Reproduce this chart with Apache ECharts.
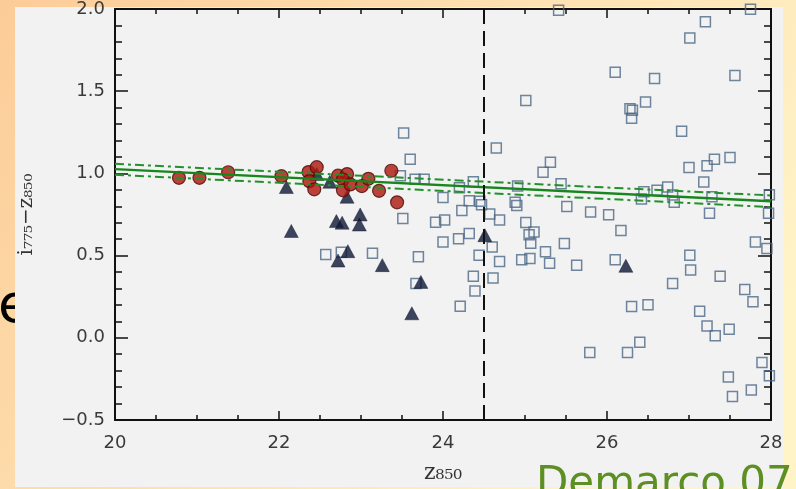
<!DOCTYPE html>
<html>
<head>
<meta charset="utf-8">
<script src="https://cdn.jsdelivr.net/npm/echarts@6/dist/echarts.min.js"></script>
<style>
  html, body { margin: 0; padding: 0; }
  #chart { width: 796px; height: 489px; }
</style>
</head>
<body>
<div id="chart"></div>
<script>
// red circles (z850, i775-z850)
var redX = [20.78, 21.03, 21.38, 22.03, 22.36, 22.46, 22.37, 22.43, 22.72, 22.83, 22.78, 22.78, 22.87, 23.01, 23.09, 23.22, 23.37, 23.44];
var redY = [0.973, 0.973, 1.007, 0.983, 1.008, 1.038, 0.953, 0.903, 0.986, 0.996, 0.963, 0.897, 0.933, 0.923, 0.967, 0.894, 1.016, 0.824];

// dark triangles
var triX = [22.46, 22.09, 22.62, 22.83, 22.70, 22.77, 22.99, 22.98, 22.15, 22.84, 22.72, 23.26, 23.73, 23.62, 24.51, 26.23];
var triY = [0.996, 0.917, 0.949, 0.858, 0.710, 0.700, 0.750, 0.689, 0.650, 0.527, 0.470, 0.442, 0.340, 0.149, 0.624, 0.438];

// open squares
var sqX = [23.52, 23.60, 23.48, 23.66, 23.77, 24.00, 24.20, 24.37, 24.65, 24.23, 24.32, 24.45, 24.47, 24.57, 24.69,
           24.02, 23.91, 23.51, 24.32, 24.19, 24.00, 24.60, 24.44, 24.69, 23.70, 24.37, 24.61, 24.39, 24.21, 23.67,
           22.57, 22.76, 23.14, 25.31, 25.22, 24.91, 25.44, 24.88, 24.90, 25.01, 25.11, 25.05, 25.07, 24.96, 25.06,
           25.25, 25.30, 25.41, 27.20, 27.01, 27.75, 26.10, 26.58, 27.56, 25.01, 26.28, 26.31, 26.30, 26.47, 26.91,
           27.00, 27.22, 27.31, 27.50, 27.18, 26.45, 26.61, 26.74, 26.80, 26.42, 26.82, 27.28, 27.98, 25.51, 25.80,
           26.02, 27.25, 27.97, 26.17, 25.48, 25.63, 26.10, 27.01, 27.02, 26.80, 27.38, 27.81, 27.95, 27.68, 27.78,
           26.30, 26.50, 27.13, 27.22, 27.32, 27.49, 25.79, 26.25, 26.40, 27.89, 27.98, 27.48, 27.53, 27.76];
var sqY = [1.246, 1.086, 0.986, 0.964, 0.964, 0.854, 0.913, 0.949, 1.155, 0.775, 0.834, 0.830, 0.809, 0.753, 0.716,
           0.716, 0.703, 0.725, 0.634, 0.603, 0.583, 0.553, 0.502, 0.464, 0.493, 0.374, 0.364, 0.285, 0.192, 0.330,
           0.507, 0.521, 0.514, 1.068, 1.007, 0.923, 0.937, 0.824, 0.805, 0.701, 0.644, 0.627, 0.575, 0.474, 0.482,
           0.523, 0.453, 1.992, 1.923, 1.824, 1.998, 1.616, 1.577, 1.596, 1.444, 1.394, 1.384, 1.335, 1.434, 1.256,
           1.036, 1.046, 1.086, 1.096, 0.947, 0.888, 0.897, 0.917, 0.868, 0.844, 0.824, 0.858, 0.870, 0.799, 0.765,
           0.748, 0.757, 0.757, 0.652, 0.573, 0.442, 0.474, 0.502, 0.413, 0.330, 0.375, 0.583, 0.543, 0.294, 0.220,
           0.191, 0.201, 0.161, 0.072, 0.012, 0.052, -0.090, -0.090, -0.027, -0.150, -0.231, -0.239, -0.357, -0.318];

// red sequence fit and its scatter band
var fitX = [20, 28];
var fitY = [1.026, 0.830];
var fitUpY = [1.058, 0.866];
var fitLoY = [0.992, 0.795];

// magnitude limit
var limX = [24.5, 24.5];
var limY = [-0.5, 2.0];

var xTickVals = [20, 22, 24, 26, 28];
var xTickText = ['20', '22', '24', '26', '28'];
var yTickVals = [-0.5, 0.0, 0.5, 1.0, 1.5, 2.0];
var yTickText = ['\u22120.5', '0.0', '0.5', '1.0', '1.5', '2.0'];

function pairs(xs, ys) {
    var out = [];
    for (var i = 0; i < xs.length; i++) out.push([xs[i], ys[i]]);
    return out;
}
function tickLabel(vals, texts) {
    return function (v) {
        for (var i = 0; i < vals.length; i++) {
            if (Math.abs(vals[i] - v) < 1e-6) return texts[i];
        }
        return '';
    };
}

var ink = '#111';
var labelFont = { fontFamily: 'DejaVu Sans', fontSize: 18, color: '#3a3a3a' };

function xAx(pos, showLabel) {
    return {
        type: 'value', position: pos, min: 20, max: 28, interval: 2,
        axisLine: { show: true, onZero: false, lineStyle: { color: ink, width: 2 } },
        axisTick: { show: true, inside: true, length: 9, lineStyle: { color: ink, width: 1.5 } },
        minorTick: { show: true, splitNumber: 4, length: 5, lineStyle: { color: ink, width: 1.5 } },
        axisLabel: Object.assign({ show: showLabel, margin: 14, formatter: tickLabel(xTickVals, xTickText) }, labelFont),
        splitLine: { show: false }
    };
}
function yAx(pos, showLabel) {
    return {
        type: 'value', position: pos, min: -0.5, max: 2.0, interval: 0.5,
        axisLine: { show: true, onZero: false, lineStyle: { color: ink, width: 2 } },
        axisTick: { show: true, inside: true, length: 13, lineStyle: { color: ink, width: 1.5 } },
        minorTick: { show: true, splitNumber: 5, length: 7, lineStyle: { color: ink, width: 1.5 } },
        axisLabel: Object.assign({ show: showLabel, margin: 10, formatter: tickLabel(yTickVals, yTickText) }, labelFont),
        splitLine: { show: false }
    };
}

var xBottom = xAx('bottom', true);
xBottom.name = 'z\u2088\u2085\u2080';
xBottom.nameLocation = 'middle';
xBottom.nameGap = 42;
xBottom.nameTextStyle = { fontFamily: 'DejaVu Serif', fontSize: 22, color: '#333' };

var yLeft = yAx('left', true);
yLeft.name = 'i\u2087\u2087\u2085\u2212z\u2088\u2085\u2080';
yLeft.nameLocation = 'middle';
yLeft.nameGap = 78;
yLeft.nameTextStyle = { fontFamily: 'DejaVu Serif', fontSize: 20, color: '#333' };

var green = '#23902a';

var chart = echarts.init(document.getElementById('chart'), null, { renderer: 'canvas' });
chart.setOption({
    animation: false,
    backgroundColor: 'transparent',
    grid: { left: 115, right: 25, top: 7, bottom: 61, containLabel: false },
    xAxis: [xBottom, xAx('top', false)],
    yAxis: [yLeft, yAx('right', false)],
    graphic: [
        {
            type: 'rect', z: -100, silent: true,
            shape: { x: 0, y: 0, width: 796, height: 489 },
            style: {
                fill: {
                    type: 'linear', x: 0, y: 0, x2: 0.8, y2: 1,
                    colorStops: [{ offset: 0, color: '#fccc98' }, { offset: 1, color: '#fff4c8' }]
                }
            }
        },
        {
            type: 'text', z: -90, silent: true, x: -2, y: 308,
            style: { text: 'e', font: '54px "DejaVu Sans"', fill: '#000', verticalAlign: 'middle' }
        },
        {
            type: 'rect', z: -80, silent: true,
            shape: { x: 15, y: 7, width: 768, height: 480 },
            style: { fill: '#f2f2f2' }
        },
        {
            type: 'text', z: 100, silent: true, x: 536, y: 464,
            style: { text: 'Demarco 07', font: '42px "DejaVu Sans"', fill: '#5e8f22', verticalAlign: 'top' }
        }
    ],
    series: [
        {
            type: 'line', data: pairs(fitX, fitUpY), showSymbol: false, silent: true,
            lineStyle: { color: green, width: 2, type: [9, 4, 3, 4] }
        },
        {
            type: 'line', data: pairs(fitX, fitLoY), showSymbol: false, silent: true,
            lineStyle: { color: green, width: 2, type: [9, 4, 3, 4] }
        },
        {
            type: 'line', data: pairs(fitX, fitY), showSymbol: false, silent: true,
            lineStyle: { color: '#17861d', width: 2.5 }
        },
        {
            type: 'line', data: pairs(limX, limY), showSymbol: false, silent: true,
            lineStyle: { color: ink, width: 2, type: [15, 7] }
        },
        {
            type: 'scatter', data: pairs(sqX, sqY), symbol: 'rect', symbolSize: 10,
            itemStyle: { color: 'rgba(255,255,255,0)', borderColor: '#4c6886', borderWidth: 1.5 }
        },
        {
            type: 'scatter', data: pairs(triX, triY), symbol: 'triangle', symbolSize: [14, 13],
            itemStyle: { color: '#0e1836', borderColor: '#0a1028', borderWidth: 0.5 }
        },
        {
            type: 'scatter', data: pairs(redX, redY), symbol: 'circle', symbolSize: 13,
            itemStyle: { color: '#ad150d', borderColor: '#4a0c08', borderWidth: 1.2 }
        }
    ]
});
</script>
</body>
</html>
